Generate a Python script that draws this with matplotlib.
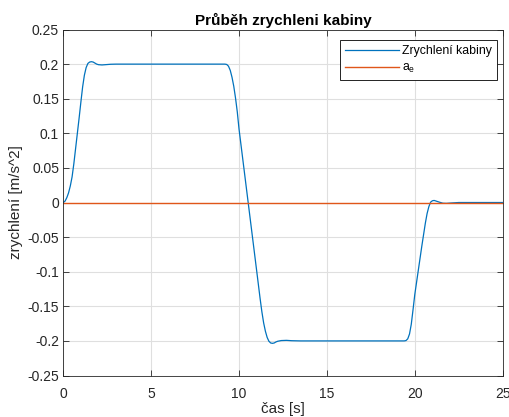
import numpy as np
from matplotlib import pyplot as plt

plt.rcParams['font.family'] = ['Liberation Sans', 'DejaVu Sans']

# cas [s] a zrychleni kabiny [m/s^2]
t = [0, 0.1, 0.2, 0.3, 0.4, 0.5, 0.6, 0.7, 0.8, 0.9, 1.0, 1.1, 1.2, 1.3, 1.4,
     1.5, 1.6, 1.7, 1.8, 1.9, 2.0, 2.2, 2.4, 2.7, 3.0,
     9.2, 9.3, 9.4, 9.5, 9.6, 9.7, 9.8, 9.9, 10.0, 10.5, 11.0, 11.2, 11.3, 11.4,
     11.5, 11.6, 11.7, 11.8, 11.9, 12.0, 12.1, 12.2, 12.4, 12.7, 13.0, 13.5,
     19.4, 19.5, 19.6, 19.7, 19.8, 19.9, 20.0, 20.2, 20.4, 20.6, 20.7, 20.8,
     20.9, 21.0, 21.1, 21.2, 21.4, 21.6, 21.8, 22.0, 22.5, 25]
a = [0, 0.002, 0.007, 0.014, 0.024, 0.037, 0.056, 0.078, 0.1, 0.122, 0.145,
     0.167, 0.184, 0.195, 0.201, 0.203, 0.2035, 0.203, 0.2015, 0.2, 0.1992,
     0.1988, 0.1992, 0.1998, 0.2,
     0.2, 0.1995, 0.197, 0.191, 0.181, 0.168, 0.151, 0.131, 0.106, 0.004,
     -0.098, -0.139, -0.158, -0.174, -0.186, -0.195, -0.2005, -0.203, -0.2035,
     -0.203, -0.2015, -0.2005, -0.1995, -0.1992, -0.1997, -0.2,
     -0.2, -0.1995, -0.197, -0.19, -0.176, -0.155, -0.133, -0.098, -0.063,
     -0.03, -0.016, -0.006, 0.0005, 0.0025, 0.003, 0.0022, 0.0005, -0.001,
     -0.0012, -0.0008, 0, 0]
t_e = [0, 25]
a_e = [0, 0]

xticks = [0, 5, 10, 15, 20, 25]
yticks = [-0.25, -0.2, -0.15, -0.1, -0.05, 0, 0.05, 0.1, 0.15, 0.2, 0.25]
yticklabels = ['-0.25', '-0.2', '-0.15', '-0.1', '-0.05', '0', '0.05', '0.1',
               '0.15', '0.2', '0.25']

fig = plt.figure(figsize=(5.1, 4.17), dpi=100)
ax = fig.add_axes([0.1241, 0.0995, 0.8615, 0.8297])
ax.plot(t, a, color='#0072BD', lw=0.9, label='Zrychlení kabiny')
ax.plot(t_e, a_e, color='#E0561A', lw=1.0, label=r'a$_\mathregular{e}$')

ax.set_xlim(0, 25)
ax.set_ylim(-0.25, 0.25)
ax.set_xticks(xticks)
ax.set_yticks(yticks)
ax.set_yticklabels(yticklabels)
ax.grid(True, color='#dfdfdf', lw=0.8)
ax.set_axisbelow(True)
ax.tick_params(direction='in', top=True, right=True, length=4, width=0.6,
               colors='#262626', labelsize=10, pad=3)
ax.tick_params(axis='x', pad=8)
for s in ax.spines.values():
    s.set_color('#262626')
    s.set_linewidth(0.6)

ax.set_title('Průběh zrychleni kabiny', fontsize=11, fontweight='bold', pad=3)
ax.set_xlabel('čas [s]', fontsize=11, color='#262626', labelpad=1)
ax.set_ylabel('zrychlení [m/s^2]', fontsize=11, color='#262626', labelpad=3)

leg = ax.legend(loc='upper right', bbox_to_anchor=(0.987, 0.97), fontsize=8.8,
                fancybox=False, edgecolor='black', framealpha=1,
                handlelength=4.4, borderpad=0.4, labelspacing=0.45,
                handletextpad=0.3, borderaxespad=0)
leg.get_frame().set_linewidth(0.6)

plt.savefig('out.png', dpi=100)
